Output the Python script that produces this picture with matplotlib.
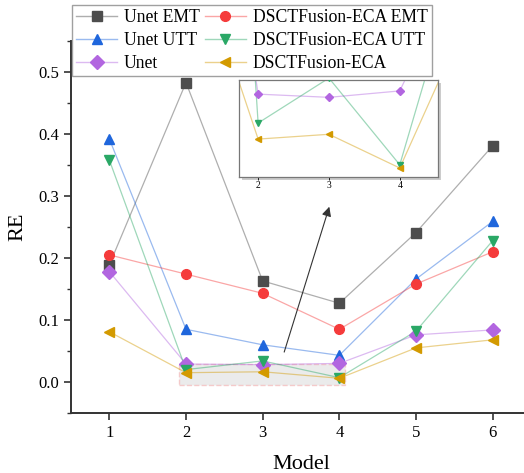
import matplotlib
matplotlib.use('Agg')
import matplotlib.pyplot as plt
from matplotlib.patches import Rectangle
from matplotlib.lines import Line2D
from matplotlib.ticker import MultipleLocator, FormatStrFormatter

# ---- data ----
models = [1, 2, 3, 4, 5, 6]
unet_emt = [0.189, 0.483, 0.163, 0.127, 0.241, 0.381]
unet_utt = [0.392, 0.085, 0.060, 0.043, 0.166, 0.259]
unet = [0.178, 0.029, 0.028, 0.030, 0.076, 0.084]
dsct_emt = [0.205, 0.174, 0.143, 0.085, 0.158, 0.210]
dsct_utt = [0.358, 0.020, 0.034, 0.007, 0.082, 0.228]
dsct = [0.081, 0.015, 0.0165, 0.006, 0.055, 0.068]

# legend is filled column by column: Unet series first, then DSCTFusion
series = [
    ('Unet EMT', unet_emt, 's', '#4d4d4d'),
    ('Unet UTT', unet_utt, '^', '#1f66dc'),
    ('Unet', unet, 'D', '#b266e0'),
    ('DSCTFusion-ECA EMT', dsct_emt, 'o', '#f53b3b'),
    ('DSCTFusion-ECA UTT', dsct_utt, 'v', '#2aa866'),
    ('DSCTFusion-ECA', dsct, '<', '#d39a00'),
]

plt.rcParams['font.family'] = ['Liberation Serif', 'DejaVu Serif']

fig = plt.figure(figsize=(5.24, 4.73), dpi=100)
ax = fig.add_axes([71 / 524, 1 - 413 / 473, 460 / 524, 372 / 473])


def draw(a, ms):
    for name, vals, mk, col in series:
        a.plot(models, vals, '-', color=col, lw=0.9, alpha=0.45, zorder=2)
        a.plot(models, vals, linestyle='none', marker=mk, color=col,
               ms=ms, zorder=3)


draw(ax, 7)

legend_entries = []
for name, vals, mk, col in series:
    legend_entries.append((Line2D([], [], color=col, lw=1.0, alpha=0.45),
                           Line2D([], [], ls='none', marker=mk, color=col, ms=7)))

leg = fig.legend(legend_entries, [s[0] for s in series],
                 ncol=2, loc='upper left',
                 bbox_to_anchor=(72 / 524, 1 - 5 / 473), borderaxespad=0,
                 fontsize=12.7, frameon=True, fancybox=False,
                 edgecolor='#888888', handlelength=2.3, columnspacing=0.3,
                 handletextpad=0.4, labelspacing=0.32, borderpad=0.25)
leg.get_frame().set_linewidth(1.0)
leg.set_zorder(10)

ax.set_xlim(0.5, 6.5)
ax.set_ylim(-0.05, 0.55)
ax.yaxis.set_major_locator(MultipleLocator(0.1))
ax.yaxis.set_minor_locator(MultipleLocator(0.05))
ax.yaxis.set_major_formatter(FormatStrFormatter('%.1f'))
ax.set_xticks(models)
ax.spines['top'].set_visible(False)
ax.spines['right'].set_visible(False)
for s in ('left', 'bottom'):
    ax.spines[s].set_linewidth(1.4)
    ax.spines[s].set_color('#333333')
ax.tick_params(direction='out', length=5, width=1.2, labelsize=12,
               color='#333333')
ax.tick_params(which='minor', direction='out', length=3, width=1.0,
               color='#333333')
ax.set_xlabel('Model', fontsize=16, labelpad=10)
ax.set_ylabel('RE', fontsize=16, labelpad=8)

# zoom region in main axes
ax.add_patch(Rectangle((1.91, -0.005), 4.08 - 1.91, 0.034,
                       facecolor='#d8d8d8', alpha=0.5, edgecolor='#f4a0a0',
                       linestyle='--', lw=1.0, zorder=1))
ax.annotate('', xy=(3.88, 0.287), xytext=(3.27, 0.044),
            arrowprops=dict(arrowstyle='-|>', color='#333333', lw=0.8,
                            mutation_scale=14), zorder=5)

# inset with a grey drop shadow
ix, iy, iw, ih = 239 / 524, 1 - 177 / 473, 199 / 524, 97 / 473
shadow_ax = fig.add_axes([ix + 3 / 524, iy - 3 / 473, iw, ih])
shadow_ax.set_axis_off()
shadow_ax.add_patch(Rectangle((0, 0), 1, 1, transform=shadow_ax.transAxes,
                              facecolor='#cccccc', edgecolor='none'))
shadow_ax.set_zorder(4)

axin = fig.add_axes([ix, iy, iw, ih])
axin.set_zorder(5)
axin.set_facecolor('white')
draw(axin, 4.5)
axin.set_xlim(1.73, 4.54)
axin.set_ylim(0.0032, 0.0334)
axin.set_xticks([2, 3, 4])
axin.set_yticks([])
axin.tick_params(labelsize=7, length=2, width=0.6, pad=1)
for s in axin.spines.values():
    s.set_color('#777777')
    s.set_linewidth(0.9)

fig.savefig('out.png', dpi=100)
